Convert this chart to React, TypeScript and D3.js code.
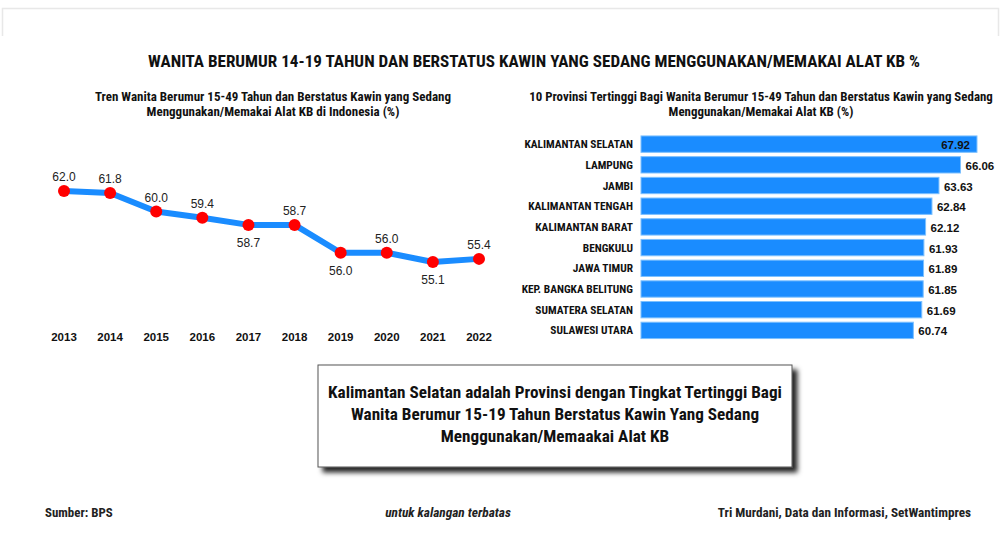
import React from "react";
import * as d3 from "d3";

const years = ["2013", "2014", "2015", "2016", "2017", "2018", "2019", "2020", "2021", "2022"];
const trendValues = [62.0, 61.8, 60.0, 59.4, 58.7, 58.7, 56.0, 56.0, 55.1, 55.4];
const labelBelow = [false, false, false, false, true, false, true, false, true, false];

const provinces = [
  "KALIMANTAN SELATAN",
  "LAMPUNG",
  "JAMBI",
  "KALIMANTAN TENGAH",
  "KALIMANTAN BARAT",
  "BENGKULU",
  "JAWA TIMUR",
  "KEP. BANGKA BELITUNG",
  "SUMATERA SELATAN",
  "SULAWESI UTARA",
];
const provinceValues = [67.92, 66.06, 63.63, 62.84, 62.12, 61.93, 61.89, 61.85, 61.69, 60.74];

const mainTitle = "WANITA BERUMUR 14-19 TAHUN DAN BERSTATUS KAWIN YANG SEDANG MENGGUNAKAN/MEMAKAI ALAT KB %";
const leftSubtitle = ["Tren Wanita Berumur 15-49 Tahun dan Berstatus Kawin yang Sedang", "Menggunakan/Memakai Alat KB di Indonesia (%)"];
const rightSubtitle = ["10 Provinsi Tertinggi Bagi Wanita Berumur 15-49 Tahun dan Berstatus Kawin yang Sedang", "Menggunakan/Memakai Alat KB (%)"];
const boxText = [
  "Kalimantan Selatan  adalah Provinsi  dengan Tingkat Tertinggi Bagi",
  "Wanita Berumur 15-19 Tahun Berstatus Kawin Yang Sedang",
  "Menggunakan/Memaakai Alat KB",
];
const footerLeft = "Sumber: BPS";
const footerMid = "untuk kalangan terbatas";
const footerRight = "Tri Murdani, Data dan Informasi, SetWantimpres";

const FONT = "'Liberation Sans Narrow', 'Roboto Condensed', 'Liberation Sans', sans-serif";
const SANS = "'Liberation Sans', 'Open Sans', sans-serif";
const BLUE = "#1a8cff";

export default function App() {
  const W = 1005, H = 554;

  const x = d3.scalePoint<string>().domain(years).range([64, 479]);
  const y = d3.scaleLinear().domain([50, 65]).range([314.5, 160]);
  const line = d3
    .line<number>()
    .x((_, i) => x(years[i]) as number)
    .y((d) => y(d));

  const by = d3.scaleBand<string>().domain(provinces).range([131.6, 342.9]).paddingInner(0.21).paddingOuter(0.21);
  const bx = d3.scaleLinear().domain([30, 70]).range([641, 995.4]);

  return (
    <svg width={W} height={H} style={{ position: "absolute", left: 0, top: 0, background: "#fff" }} fontFamily={FONT}>
      <defs>
        <filter id="shadow" x="-10%" y="-20%" width="130%" height="150%">
          <feDropShadow dx="5" dy="5" stdDeviation="2.5" floodColor="#000" floodOpacity="0.85" />
        </filter>
      </defs>
      <rect width={W} height={H} fill="#fff" />
      {/* faint frame */}
      <path d="M2.5,36 V8.5 H998.5 V36" fill="none" stroke="#e8e8e8" strokeWidth={1.5} />

      <text x={534} y={67} textAnchor="middle" fontWeight="bold" fontSize={17.1} fill="#111">
        {mainTitle}
      </text>

      {leftSubtitle.map((t, i) => (
        <text key={"ls" + i} x={273} y={101 + i * 15} textAnchor="middle" fontWeight="bold" fontSize={13} fill="#111">
          {t}
        </text>
      ))}
      {rightSubtitle.map((t, i) => (
        <text key={"rs" + i} x={761} y={101 + i * 15} textAnchor="middle" fontWeight="bold" fontSize={12.9} fill="#111">
          {t}
        </text>
      ))}

      {/* line chart */}
      <path d={line(trendValues) || ""} fill="none" stroke={BLUE} strokeWidth={6} strokeLinejoin="round" />
      {trendValues.map((v, i) => (
        <circle key={"c" + i} cx={x(years[i])} cy={y(v)} r={6} fill="#ff0000" />
      ))}
      {trendValues.map((v, i) => (
        <text
          key={"l" + i}
          x={x(years[i])}
          y={labelBelow[i] ? y(v) + 22 : y(v) - 10}
          textAnchor="middle"
          fontSize={12}
          fontFamily={SANS}
          fill="#222"
        >
          {v.toFixed(1)}
        </text>
      ))}
      {years.map((yr) => (
        <text key={yr} x={x(yr)} y={341} textAnchor="middle" fontWeight="bold" fontSize={11.5} fill="#111" fontFamily={SANS}>
          {yr}
        </text>
      ))}

      {/* bar chart */}
      {provinces.map((p, i) => {
        const v = provinceValues[i];
        const yy = by(p) as number;
        const bw = by.bandwidth();
        const end = bx(v);
        const inside = i === 0;
        return (
          <g key={p}>
            <rect x={bx(30)} y={yy} width={end - bx(30)} height={bw} fill={BLUE} stroke="#7cc0ff" strokeWidth={1} />
            <text x={633} y={yy + bw / 2 + 4} textAnchor="end" fontWeight="bold" fontSize={11.4} fill="#111">
              {p}
            </text>
            <text
              x={inside ? end - 7 : end + 5}
              y={yy + bw / 2 + 5}
              textAnchor={inside ? "end" : "start"}
              fontWeight="bold"
              fontSize={11.5}
              fill="#111"
              fontFamily={SANS}
            >
              {v.toFixed(2)}
            </text>
          </g>
        );
      })}

      {/* note box */}
      <rect x={318} y={365} width={474} height={102} fill="#fff" stroke="#555" strokeWidth={1} filter="url(#shadow)" />
      {boxText.map((t, i) => (
        <text key={"b" + i} x={555} y={398 + i * 22} textAnchor="middle" fontWeight="bold" fontSize={17.2} fill="#111">
          {t}
        </text>
      ))}

      {/* footer */}
      <text x={45} y={517} fontSize={12.9} fontWeight="bold" fill="#222">{footerLeft}</text>
      <text x={448} y={517} fontSize={13.4} fontWeight="bold" fontStyle="italic" textAnchor="middle" fill="#222">{footerMid}</text>
      <text x={971} y={517} fontSize={13.2} fontWeight="bold" textAnchor="end" fill="#222">{footerRight}</text>
    </svg>
  );
}
